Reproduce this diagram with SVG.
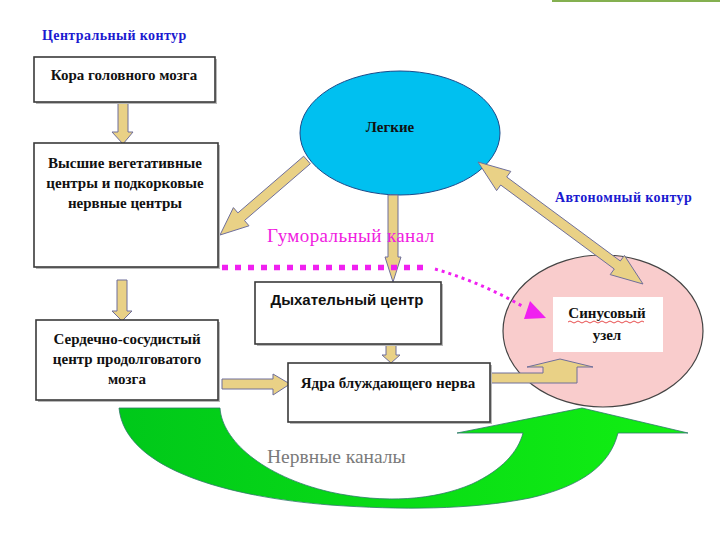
<svg xmlns="http://www.w3.org/2000/svg" width="720" height="540" viewBox="0 0 720 540">
<defs>
<style>
.box{fill:#ffffff;stroke:#3a3a3a;stroke-width:1.6}
.shadow{fill:#b8b8b8}
.t{font-family:"Liberation Serif","Times New Roman",serif;font-weight:bold;font-size:15px;fill:#111}
.ts{font-family:"Liberation Sans",Arial,sans-serif;font-weight:bold;font-size:15px;fill:#111}
.blue{font-family:"Liberation Serif","Times New Roman",serif;font-weight:bold;font-size:14px;letter-spacing:0.4px;fill:#1a1ad0}
.yarrow{fill:#e9d186;stroke:#6f6f9a;stroke-width:1}
</style>
<linearGradient id="gr" x1="0" y1="0" x2="1" y2="0">
<stop offset="0" stop-color="#00c81a"/>
<stop offset="1" stop-color="#12f012"/>
</linearGradient>
</defs>
<rect x="0" y="0" width="720" height="540" fill="#ffffff"/>
<rect x="552" y="0" width="168" height="2" fill="#84b050"/>

<text class="blue" x="42" y="40">Центральный контур</text>
<text class="blue" x="555" y="202">Автономный контур</text>

<g id="lungs">
<ellipse cx="400" cy="133" rx="100" ry="62" fill="#00c0f0" stroke="#1a4a8a" stroke-width="1"/>
<text class="t" x="390" y="132" text-anchor="middle" font-size="13">Легкие</text>
</g>

<g id="sinus">
<ellipse cx="603" cy="331" rx="100" ry="76" fill="#f9cccc" stroke="#444" stroke-width="1.2"/>
<rect x="553" y="297" width="110" height="55" fill="#ffffff"/>
<text class="t" x="607" y="318" text-anchor="middle">Синусовый</text>
<path d="M568,322 q2,-2 4,0 t4,0 t4,0 t4,0 t4,0 t4,0 t4,0 t4,0 t4,0 t4,0 t4,0 t4,0 t4,0 t4,0 t4,0 t4,0 t4,0 t4,0 t4,0" fill="none" stroke="#e02020" stroke-width="0.8"/>
<text class="t" x="607" y="340" text-anchor="middle">узел</text>
</g>

<g id="connectors">
<path d="M119,408 L220,408 C222,440 262,476 330,492 C385,504 435,500 472,484 C502,470 518,452 523,433 L457,433 L582,408 L688,433 L618,433 C610,465 582,486 530,498 C470,510 400,510 330,505 C230,497 125,470 119,408 Z" fill="url(#gr)" stroke="#2f7a6a" stroke-width="0.8"/>
<polygon class="yarrow" points="118,103 128,103 128,132 133,132 123,144 112,132 118,132"/>
<polygon class="yarrow" points="117,280 127,280 127,311 132,311 122,321 112,311 117,311"/>
<polygon class="yarrow" points="222,379 273,379 273,374 290,384 273,395 273,389 222,389"/>
<polygon class="yarrow" points="388,195 398,195 398,257 401,257 393,282 385,257 388,257"/>
<polygon class="yarrow" points="386,345 396,345 396,355 400,355 391,363 382,355 386,355"/>
<polygon class="yarrow" points="310.3,163.8 244.5,220.5 249,225.8 220,235 233.4,207.6 237.9,212.9 303.7,156.2"/>
<polygon class="yarrow" points="478,162 496.6,190.6 500.7,185 614.3,269 610.2,274.6 643,284 624.4,255.4 620.3,261 506.7,177 510.8,171.4"/>
<polygon class="yarrow" points="490,373 543,373 543,367 527,367 560,359 593,367 577,367 577,383 490,383"/>
<line x1="222" y1="267.5" x2="430" y2="267.5" stroke="#f020f0" stroke-width="5.5" stroke-dasharray="6 7"/>
<path d="M435,269 Q480,282 522,306" fill="none" stroke="#f020f0" stroke-width="3" stroke-dasharray="3 4"/>
<polygon points="530,301 524,319 546,318" fill="#f020f0"/>
</g>

<text x="267" y="242" font-family="'Liberation Serif','Times New Roman',serif" font-size="19" letter-spacing="0.4" fill="#f020e0">Гуморальный канал</text>

<g id="box1">
<rect class="shadow" x="36" y="59" width="181" height="45"/>
<rect class="box" x="34" y="57" width="181" height="45"/>
<text class="t" x="124" y="80" text-anchor="middle">Кора головного мозга</text>
</g>

<g id="box2">
<rect class="shadow" x="36" y="145" width="184" height="124"/>
<rect class="box" x="34" y="143" width="184" height="124"/>
<text class="t" x="125" y="168" text-anchor="middle">Высшие вегетативные</text>
<text class="t" x="125" y="188" text-anchor="middle">центры и подкорковые</text>
<text class="t" x="125" y="208" text-anchor="middle">нервные центры</text>
</g>

<g id="box3">
<rect class="shadow" x="38" y="322" width="182" height="80"/>
<rect class="box" x="36" y="320" width="182" height="80"/>
<text class="t" x="127" y="344" text-anchor="middle">Сердечно-сосудистый</text>
<text class="t" x="127" y="364" text-anchor="middle">центр  продолговатого</text>
<text class="t" x="127" y="384" text-anchor="middle">мозга</text>
</g>

<g id="box4">
<rect class="shadow" x="257" y="284" width="186" height="62"/>
<rect class="box" x="255" y="282" width="186" height="62"/>
<text class="ts" x="347" y="305" text-anchor="middle">Дыхательный центр</text>
</g>

<g id="box5">
<rect class="shadow" x="290" y="365" width="202" height="59"/>
<rect class="box" x="288" y="363" width="202" height="59"/>
<text class="t" x="388" y="388" text-anchor="middle">Ядра блуждающего нерва</text>
</g>

<text x="267" y="463" font-family="'Liberation Serif','Times New Roman',serif" font-size="19.5" fill="#7a7a7a">Нервные каналы</text>
</svg>
